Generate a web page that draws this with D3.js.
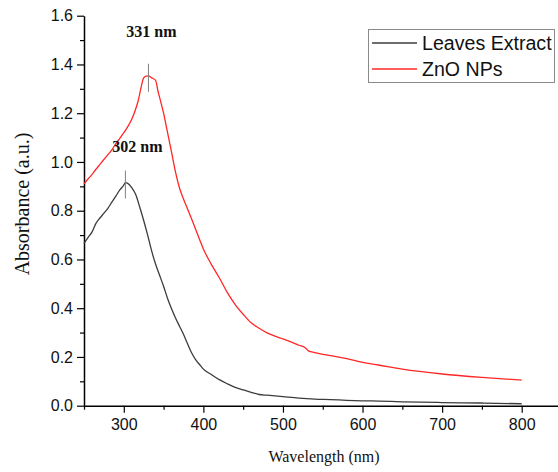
<!DOCTYPE html>
<html>
<head>
<meta charset="utf-8">
<script src="https://cdn.jsdelivr.net/npm/d3@7"></script>
<style>
  html, body { margin: 0; padding: 0; background: #fff; }
  svg { display: block; }
</style>
</head>
<body>
<svg id="chart" width="558" height="472"></svg>
<script>
// UV-Vis absorbance spectra (wavelength in nm, absorbance in a.u.)
const wavelengthsLeaves = [250,255,260,265,270,275,280,285,290,295,300,302,305,310,315,320,325,330,335,340,345,350,355,360,365,370,375,380,385,390,395,400,410,420,430,440,450,460,470,480,490,500,520,540,560,580,600,620,650,700,750,800];
const absorbanceLeaves = [0.666,0.690,0.712,0.748,0.770,0.790,0.810,0.835,0.860,0.885,0.905,0.915,0.912,0.895,0.866,0.815,0.760,0.700,0.635,0.580,0.535,0.490,0.440,0.398,0.360,0.326,0.293,0.255,0.218,0.190,0.170,0.150,0.128,0.107,0.090,0.075,0.065,0.055,0.046,0.043,0.040,0.037,0.031,0.027,0.025,0.022,0.020,0.019,0.016,0.013,0.011,0.008];

const wavelengthsZnO = [250,255,260,265,270,275,280,285,290,295,300,305,310,314,318,322,325,328,331,335,340,343,345,350,355,360,365,370,375,380,385,390,395,400,410,420,430,440,450,460,470,480,490,500,510,520,528,532,540,560,580,600,620,650,700,750,800];
const absorbanceZnO = [0.910,0.930,0.948,0.970,0.990,1.010,1.030,1.050,1.075,1.097,1.120,1.145,1.175,1.208,1.250,1.310,1.345,1.352,1.353,1.345,1.335,1.290,1.265,1.200,1.120,1.040,0.958,0.893,0.848,0.808,0.768,0.726,0.684,0.643,0.580,0.525,0.465,0.415,0.375,0.340,0.318,0.299,0.285,0.274,0.262,0.248,0.238,0.225,0.218,0.205,0.193,0.178,0.167,0.150,0.130,0.116,0.105];

const seriesNames = ["Leaves Extract", "ZnO NPs"];
const seriesColors = ["#3c3c3c", "#ff2626"];

const peakWavelengths = [331, 302];
const peakValues = [1.353, 0.915];
const peakLabels = ["331 nm", "302 nm"];

const xMajorTicks = [300,400,500,600,700,800];
const xMinorTicks = [250,350,450,550,650,750];
const yMajorTicks = [0,0.2,0.4,0.6,0.8,1.0,1.2,1.4,1.6];
const yMinorTicks = [0.1,0.3,0.5,0.7,0.9,1.1,1.3,1.5];

const svg = d3.select("#chart");

const x = d3.scaleLinear().domain([250, 850]).range([84, 561.5]);
const y = d3.scaleLinear().domain([0, 1.6]).range([405.7, 15.7]);

const tickFont = "'Liberation Sans', Arial, sans-serif";
const serifFont = "'Liberation Serif', 'Times New Roman', serif";

// minor ticks
svg.append("g")
  .attr("transform", `translate(0,${y(0)})`)
  .call(d3.axisBottom(x).tickValues(xMinorTicks).tickSize(4).tickFormat(""))
  .call(g => g.select(".domain").remove());
svg.append("g")
  .attr("transform", `translate(${x(250)},0)`)
  .call(d3.axisLeft(y).tickValues(yMinorTicks).tickSize(4).tickFormat(""))
  .call(g => g.select(".domain").remove());

// major axes
const xAxis = svg.append("g")
  .attr("transform", `translate(0,${y(0)})`)
  .call(d3.axisBottom(x).tickValues(xMajorTicks).tickSize(7).tickSizeOuter(0).tickPadding(6).tickFormat(d3.format("d")));
const yAxis = svg.append("g")
  .attr("transform", `translate(${x(250)},0)`)
  .call(d3.axisLeft(y).tickValues(yMajorTicks).tickSize(7).tickSizeOuter(0).tickPadding(4).tickFormat(d3.format(".1f")));

svg.selectAll(".tick line").attr("stroke", "#000").attr("stroke-width", 1.2);
[xAxis, yAxis].forEach(a => {
  a.select(".domain").attr("stroke", "#000").attr("stroke-width", 1.5);
  a.selectAll("text").attr("font-family", tickFont).attr("font-size", 16).attr("fill", "#111");
});

// spectra
const line = d3.line()
  .x(d => x(d[0]))
  .y(d => y(d[1]))
  .curve(d3.curveMonotoneX);

const leaves = wavelengthsLeaves.map((w, i) => [w, absorbanceLeaves[i]]);
const zno = wavelengthsZnO.map((w, i) => [w, absorbanceZnO[i]]);

svg.append("path").datum(leaves)
  .attr("d", line).attr("fill", "none")
  .attr("stroke", seriesColors[0]).attr("stroke-width", 1.3);
svg.append("path").datum(zno)
  .attr("d", line).attr("fill", "none")
  .attr("stroke", seriesColors[1]).attr("stroke-width", 1.3);

// peak markers and labels
const labelOffsets = [[3, 36.5], [12, 151.5]];
peakWavelengths.forEach((w, i) => {
  svg.append("line")
    .attr("x1", x(w)).attr("x2", x(w))
    .attr("y1", y(peakValues[i] + 0.05)).attr("y2", y(peakValues[i] - 0.065))
    .attr("stroke", "#808080").attr("stroke-width", 1);
  svg.append("text")
    .attr("x", x(w) + labelOffsets[i][0])
    .attr("y", labelOffsets[i][1])
    .attr("text-anchor", "middle")
    .attr("font-family", serifFont)
    .attr("font-weight", "bold")
    .attr("font-size", 16)
    .attr("fill", "#111")
    .text(peakLabels[i]);
});

// axis titles
svg.append("text")
  .attr("x", 324).attr("y", 462)
  .attr("text-anchor", "middle")
  .attr("font-family", serifFont).attr("font-size", 16).attr("fill", "#111")
  .text("Wavelength (nm)");
svg.append("text")
  .attr("transform", `translate(29,204) rotate(-90)`)
  .attr("text-anchor", "middle")
  .attr("font-family", serifFont).attr("font-size", 20).attr("fill", "#111")
  .text("Absorbance (a.u.)");

// legend
const legend = svg.append("g");
legend.append("rect")
  .attr("x", 368.5).attr("y", 29.5).attr("width", 186).attr("height", 53)
  .attr("fill", "#fff").attr("stroke", "#8a8a8a").attr("stroke-width", 1);
seriesNames.forEach((name, i) => {
  const ly = 43 + i * 26;
  legend.append("line")
    .attr("x1", 372).attr("x2", 417).attr("y1", ly).attr("y2", ly)
    .attr("stroke", seriesColors[i]).attr("stroke-width", 1.3);
  legend.append("text")
    .attr("x", 422).attr("y", ly + 7)
    .attr("font-family", tickFont).attr("font-size", 19.6).attr("fill", "#111")
    .text(name);
});
</script>
</body>
</html>
